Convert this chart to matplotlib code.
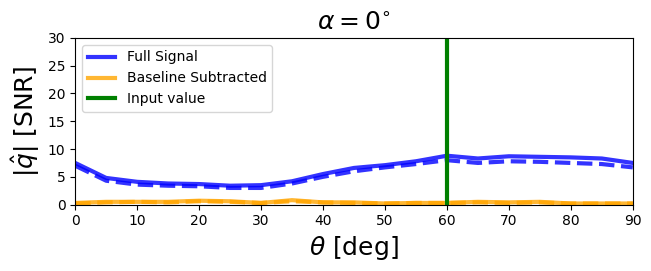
import matplotlib
matplotlib.use("Agg")
import matplotlib.pyplot as plt
import numpy as np

theta = [0, 5, 10, 15, 20, 25, 30, 35, 40, 45, 50, 55, 60, 65, 70, 75, 80, 85, 90]
full_solid = [7.5, 4.8, 4.1, 3.8, 3.7, 3.4, 3.5, 4.2, 5.5, 6.6, 7.1, 7.8, 8.8, 8.3, 8.7, 8.6, 8.5, 8.3, 7.5]
full_dashed = [7.0, 4.3, 3.6, 3.4, 3.3, 3.0, 3.0, 3.8, 5.0, 6.0, 6.7, 7.3, 8.0, 7.5, 7.8, 7.7, 7.5, 7.3, 6.7]
base_solid = [0.3, 0.5, 0.5, 0.5, 0.7, 0.6, 0.3, 0.8, 0.4, 0.4, 0.2, 0.3, 0.3, 0.5, 0.4, 0.5, 0.2, 0.2, 0.2]
base_dashed = [0.2, 0.4, 0.5, 0.4, 0.6, 0.5, 0.3, 0.6, 0.4, 0.3, 0.2, 0.3, 0.3, 0.4, 0.3, 0.4, 0.2, 0.2, 0.2]
input_value = 60

fig, ax = plt.subplots(figsize=(6.51, 2.71), dpi=100)
ax.plot(theta, full_solid, color='blue', lw=3, alpha=0.8, label='Full Signal')
ax.plot(theta, full_dashed, color='blue', lw=3, alpha=0.8, ls='--')
ax.plot(theta, base_solid, color='orange', lw=3, alpha=0.8, label='Baseline Subtracted')
ax.plot(theta, base_dashed, color='orange', lw=3, alpha=0.8, ls='--')
ax.axvline(input_value, color='green', lw=3, label='Input value')
ax.set_xlim(0, 90)
ax.set_ylim(0, 30)
ax.set_xticks(range(0, 91, 10))
ax.set_yticks(range(0, 31, 5))
ax.set_title(r'$\alpha = 0^{\circ}$', fontsize=18)
ax.set_xlabel(r'$\theta$ [deg]', fontsize=18)
ax.set_ylabel(r'$|\hat{q}|$ [SNR]', fontsize=18)
ax.legend(loc='upper left')
fig.subplots_adjust(left=0.1155, right=0.972, top=0.86, bottom=0.245)
fig.savefig('out.png', dpi=100)
